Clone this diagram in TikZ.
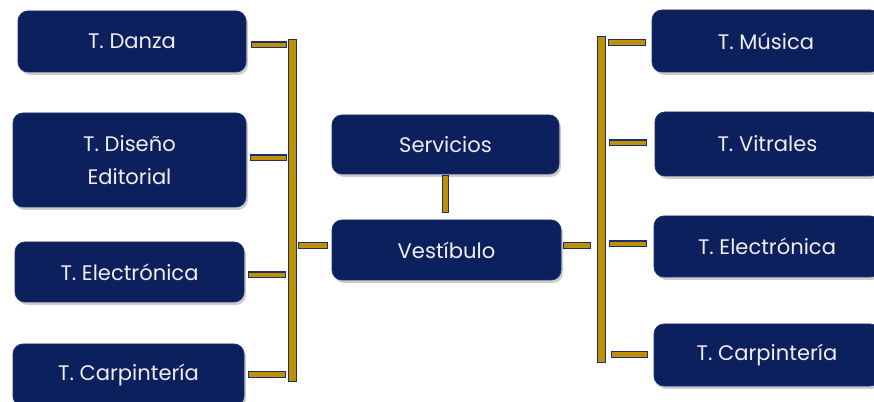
\documentclass[tikz,border=0pt]{standalone}
\usepackage{fontspec}
\setmainfont{Poppins}
\usetikzlibrary{shadows}
\definecolor{navy}{HTML}{0C205E}
\definecolor{edgenavy}{HTML}{1A3170}
\definecolor{gold}{HTML}{BF9000}
\definecolor{txt}{HTML}{EEEEEE}
\newcommand\goldbar[3]{\draw[barout,line width=#3*0.75pt] (#1) -- (#2); \draw[barin,line width=#3*0.75pt-2.2pt] (#1) -- (#2);}
\begin{document}
\begin{tikzpicture}[x=0.75pt,y=-0.75pt,
  box/.style={fill=navy,draw=edgenavy,line width=0.6pt,rounded corners=7.5pt,
    text=txt,font=\fontsize{15.8}{19}\selectfont,align=center,inner sep=0pt,
    drop shadow={opacity=0.4,shadow xshift=1.5pt,shadow yshift=-2.2pt}},
  barout/.style={draw=edgenavy},
  barin/.style={draw=gold,shorten >=1.1pt,shorten <=1.1pt}]
\useasboundingbox (0,0) rectangle (874,402);
\clip (0,0) rectangle (874,402);
% left boxes
\node[box,minimum width=228*0.75pt,minimum height=61*0.75pt] (danza) at (132,41.5) {T. Danza};
\node[box,minimum width=233*0.75pt,minimum height=94*0.75pt] (diseno) at (129.5,160) {T. Diseño\\[6pt]Editorial};
\node[box,minimum width=229*0.75pt,minimum height=60*0.75pt] (lelec) at (129.5,272) {T. Electrónica};
\node[box,minimum width=231*0.75pt,minimum height=62*0.75pt] (lcarp) at (128.5,375) {T. Carpintería};
% center
\node[box,minimum width=227*0.75pt,minimum height=59*0.75pt] (serv) at (445.5,144.5) {Servicios};
\node[box,minimum width=229*0.75pt,minimum height=60*0.75pt] (vest) at (446.5,250) {Vestíbulo};
% right boxes
\node[box,minimum width=228*0.75pt,minimum height=62*0.75pt] (musica) at (766,41) {T. Música};
\node[box,minimum width=225*0.75pt,minimum height=64*0.75pt] (vitr) at (767.5,144) {T. Vitrales};
\node[box,minimum width=226*0.75pt,minimum height=61*0.75pt] (relec) at (767,246.5) {T. Electrónica};
\node[box,minimum width=226*0.75pt,minimum height=62*0.75pt] (rcarp) at (767,355) {T. Carpintería};
% coordinates of connectors
\coordinate (ltop) at (292.5,39);
\coordinate (lbot) at (292.5,382);
\coordinate (rtop) at (601.5,36);
\coordinate (rbot) at (601.5,363);
\coordinate (ld1) at (251,45);   \coordinate (ld2) at (287,45);
\coordinate (le1) at (250,158);  \coordinate (le2) at (287,158);
\coordinate (ll1) at (248,275);  \coordinate (ll2) at (286,275);
\coordinate (lc1) at (248,374.5);\coordinate (lc2) at (286,374.5);
\coordinate (lv1) at (298,245.5);\coordinate (lv2) at (328,245.5);
\coordinate (rv1) at (563,245.5);\coordinate (rv2) at (591,245.5);
\coordinate (rm1) at (608,42.5); \coordinate (rm2) at (646,42.5);
\coordinate (ri1) at (609,143);  \coordinate (ri2) at (647,143);
\coordinate (re1) at (609,244);  \coordinate (re2) at (647,244);
\coordinate (rc1) at (611,354.5);\coordinate (rc2) at (648,354.5);
\coordinate (sv1) at (445.5,175);\coordinate (sv2) at (445.5,213);
% bars
\goldbar{ltop}{lbot}{9}
\goldbar{rtop}{rbot}{9}
\goldbar{ld1}{ld2}{7}
\goldbar{le1}{le2}{7}
\goldbar{ll1}{ll2}{7}
\goldbar{lc1}{lc2}{7}
\goldbar{lv1}{lv2}{7}
\goldbar{rv1}{rv2}{7}
\goldbar{rm1}{rm2}{7}
\goldbar{ri1}{ri2}{7}
\goldbar{re1}{re2}{7}
\goldbar{rc1}{rc2}{7}
\goldbar{sv1}{sv2}{7}
\end{tikzpicture}
\end{document}
